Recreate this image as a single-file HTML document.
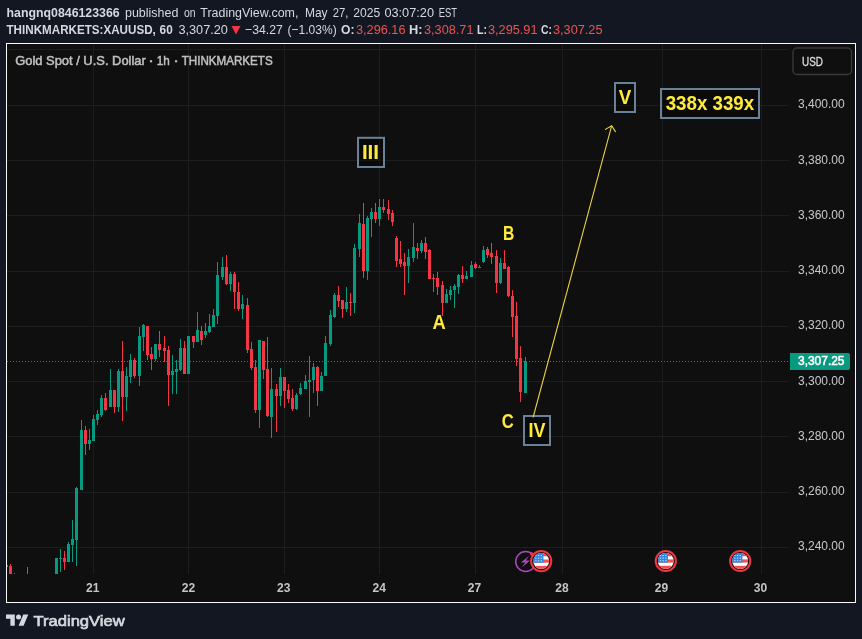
<!DOCTYPE html><html><head><meta charset="utf-8"><title>chart</title><style>html,body{margin:0;padding:0;background:#131722;}svg{display:block}text{font-family:"Liberation Sans",sans-serif;}</style></head><body>
<svg width="862" height="639" viewBox="0 0 862 639">
<defs><filter id="idf" x="-5%" y="-20%" width="110%" height="140%" color-interpolation-filters="sRGB"><feColorMatrix type="matrix" values="1 0 0 0 0 0 1 0 0 0 0 0 1 0 0 0 0 0 1 0"/></filter></defs>
<rect x="0" y="0" width="862" height="639" fill="#131722"/>
<rect x="6" y="43" width="850" height="560" fill="#fafafa"/>
<rect x="7" y="44" width="848" height="558" fill="#0f0f0f"/>
<rect x="7" y="105" width="782" height="1" fill="#1d1d1d"/>
<rect x="7" y="160" width="782" height="1" fill="#1d1d1d"/>
<rect x="7" y="215" width="782" height="1" fill="#1d1d1d"/>
<rect x="7" y="271" width="782" height="1" fill="#1d1d1d"/>
<rect x="7" y="326" width="782" height="1" fill="#1d1d1d"/>
<rect x="7" y="381" width="782" height="1" fill="#1d1d1d"/>
<rect x="7" y="436" width="782" height="1" fill="#1d1d1d"/>
<rect x="7" y="492" width="782" height="1" fill="#1d1d1d"/>
<rect x="7" y="547" width="782" height="1" fill="#1d1d1d"/>
<rect x="7" y="49" width="782" height="1" fill="#1d1d1d"/>
<rect x="93" y="44" width="1" height="530" fill="#1d1d1d"/>
<rect x="188" y="44" width="1" height="530" fill="#1d1d1d"/>
<rect x="284" y="44" width="1" height="530" fill="#1d1d1d"/>
<rect x="379" y="44" width="1" height="530" fill="#1d1d1d"/>
<rect x="475" y="44" width="1" height="530" fill="#1d1d1d"/>
<rect x="562" y="44" width="1" height="530" fill="#1d1d1d"/>
<rect x="662" y="44" width="1" height="530" fill="#1d1d1d"/>
<rect x="761" y="44" width="1" height="530" fill="#1d1d1d"/>
<g shape-rendering="crispEdges">
<rect x="7" y="565" width="1" height="1.5" fill="#f23645"/>
<rect x="14" y="572.5" width="1" height="1.5" fill="#f23645"/>
<rect x="10" y="564" width="1" height="10" fill="#f23645"/>
<rect x="9" y="566" width="3" height="8" fill="#f23645"/>
<rect x="27" y="567" width="1" height="7" fill="#f23645"/>
<rect x="56" y="558" width="1" height="16" fill="#089981"/>
<rect x="55" y="558" width="3" height="16" fill="#089981"/>
<rect x="60" y="549" width="1" height="23" fill="#089981"/>
<rect x="59" y="558" width="3" height="1" fill="#089981"/>
<rect x="64" y="551" width="1" height="19" fill="#f23645"/>
<rect x="63" y="558" width="3" height="4" fill="#f23645"/>
<rect x="68" y="542" width="1" height="20" fill="#089981"/>
<rect x="67" y="544" width="3" height="18" fill="#089981"/>
<rect x="72" y="520" width="1" height="42" fill="#089981"/>
<rect x="71" y="539" width="3" height="6" fill="#089981"/>
<rect x="76" y="487" width="1" height="79" fill="#089981"/>
<rect x="75" y="488" width="3" height="52" fill="#089981"/>
<rect x="81" y="420" width="1" height="70" fill="#089981"/>
<rect x="80" y="430" width="3" height="60" fill="#089981"/>
<rect x="85" y="426" width="1" height="29" fill="#f23645"/>
<rect x="84" y="430" width="3" height="14" fill="#f23645"/>
<rect x="89" y="429" width="1" height="21" fill="#089981"/>
<rect x="88" y="440" width="3" height="4" fill="#089981"/>
<rect x="93" y="415" width="1" height="26" fill="#089981"/>
<rect x="92" y="419" width="3" height="22" fill="#089981"/>
<rect x="97" y="410" width="1" height="15" fill="#089981"/>
<rect x="96" y="414" width="3" height="6" fill="#089981"/>
<rect x="101" y="395" width="1" height="22" fill="#089981"/>
<rect x="100" y="398" width="3" height="17" fill="#089981"/>
<rect x="105" y="393" width="1" height="18" fill="#f23645"/>
<rect x="104" y="398" width="3" height="12" fill="#f23645"/>
<rect x="110" y="369" width="1" height="38" fill="#089981"/>
<rect x="109" y="390" width="3" height="17" fill="#089981"/>
<rect x="114" y="390" width="1" height="23" fill="#f23645"/>
<rect x="113" y="390" width="3" height="17" fill="#f23645"/>
<rect x="118" y="369" width="1" height="43" fill="#089981"/>
<rect x="117" y="371" width="3" height="36" fill="#089981"/>
<rect x="122" y="341" width="1" height="80" fill="#f23645"/>
<rect x="121" y="371" width="3" height="26" fill="#f23645"/>
<rect x="126" y="367" width="1" height="44" fill="#089981"/>
<rect x="125" y="376" width="3" height="21" fill="#089981"/>
<rect x="130" y="354" width="1" height="29" fill="#089981"/>
<rect x="129" y="360" width="3" height="17" fill="#089981"/>
<rect x="134" y="358" width="1" height="20" fill="#f23645"/>
<rect x="133" y="360" width="3" height="16" fill="#f23645"/>
<rect x="139" y="327" width="1" height="59" fill="#089981"/>
<rect x="138" y="336" width="3" height="40" fill="#089981"/>
<rect x="143" y="324" width="1" height="27" fill="#089981"/>
<rect x="142" y="325" width="3" height="12" fill="#089981"/>
<rect x="147" y="326" width="1" height="34" fill="#f23645"/>
<rect x="146" y="326" width="3" height="29" fill="#f23645"/>
<rect x="151" y="347" width="1" height="23" fill="#f23645"/>
<rect x="150" y="354" width="3" height="5" fill="#f23645"/>
<rect x="155" y="344" width="1" height="17" fill="#089981"/>
<rect x="154" y="344" width="3" height="15" fill="#089981"/>
<rect x="159" y="331" width="1" height="26" fill="#f23645"/>
<rect x="158" y="344" width="3" height="6" fill="#f23645"/>
<rect x="164" y="336" width="1" height="26" fill="#f23645"/>
<rect x="163" y="348" width="3" height="3" fill="#f23645"/>
<rect x="168" y="346" width="1" height="60" fill="#f23645"/>
<rect x="167" y="350" width="3" height="25" fill="#f23645"/>
<rect x="172" y="355" width="1" height="39" fill="#089981"/>
<rect x="171" y="371" width="3" height="4" fill="#089981"/>
<rect x="176" y="360" width="1" height="34" fill="#089981"/>
<rect x="175" y="369" width="3" height="3" fill="#089981"/>
<rect x="180" y="339" width="1" height="32" fill="#089981"/>
<rect x="179" y="348" width="3" height="22" fill="#089981"/>
<rect x="184" y="341" width="1" height="33" fill="#f23645"/>
<rect x="183" y="348" width="3" height="26" fill="#f23645"/>
<rect x="188" y="336" width="1" height="38" fill="#089981"/>
<rect x="187" y="336" width="3" height="38" fill="#089981"/>
<rect x="193" y="336" width="1" height="12" fill="#f23645"/>
<rect x="192" y="336" width="3" height="6" fill="#f23645"/>
<rect x="197" y="312" width="1" height="30" fill="#089981"/>
<rect x="196" y="330" width="3" height="12" fill="#089981"/>
<rect x="201" y="326" width="1" height="19" fill="#f23645"/>
<rect x="200" y="331" width="3" height="9" fill="#f23645"/>
<rect x="205" y="323" width="1" height="15" fill="#089981"/>
<rect x="204" y="331" width="3" height="4" fill="#089981"/>
<rect x="209" y="314" width="1" height="19" fill="#089981"/>
<rect x="208" y="326" width="3" height="6" fill="#089981"/>
<rect x="213" y="309" width="1" height="18" fill="#089981"/>
<rect x="212" y="315" width="3" height="12" fill="#089981"/>
<rect x="217" y="262" width="1" height="62" fill="#089981"/>
<rect x="216" y="275" width="3" height="41" fill="#089981"/>
<rect x="222" y="257" width="1" height="23" fill="#089981"/>
<rect x="221" y="267" width="3" height="10" fill="#089981"/>
<rect x="226" y="255" width="1" height="30" fill="#f23645"/>
<rect x="225" y="267" width="3" height="17" fill="#f23645"/>
<rect x="230" y="272" width="1" height="19" fill="#089981"/>
<rect x="229" y="274" width="3" height="10" fill="#089981"/>
<rect x="234" y="272" width="1" height="37" fill="#f23645"/>
<rect x="233" y="274" width="3" height="18" fill="#f23645"/>
<rect x="238" y="282" width="1" height="29" fill="#f23645"/>
<rect x="237" y="292" width="3" height="17" fill="#f23645"/>
<rect x="242" y="295" width="1" height="24" fill="#089981"/>
<rect x="241" y="304" width="3" height="5" fill="#089981"/>
<rect x="247" y="298" width="1" height="55" fill="#f23645"/>
<rect x="246" y="305" width="3" height="45" fill="#f23645"/>
<rect x="251" y="342" width="1" height="28" fill="#f23645"/>
<rect x="250" y="349" width="3" height="19" fill="#f23645"/>
<rect x="255" y="360" width="1" height="53" fill="#f23645"/>
<rect x="254" y="367" width="3" height="43" fill="#f23645"/>
<rect x="259" y="340" width="1" height="88" fill="#089981"/>
<rect x="258" y="340" width="3" height="70" fill="#089981"/>
<rect x="263" y="341" width="1" height="38" fill="#f23645"/>
<rect x="262" y="341" width="3" height="29" fill="#f23645"/>
<rect x="267" y="337" width="1" height="80" fill="#f23645"/>
<rect x="266" y="369" width="3" height="47" fill="#f23645"/>
<rect x="271" y="368" width="1" height="70" fill="#089981"/>
<rect x="270" y="389" width="3" height="28" fill="#089981"/>
<rect x="276" y="384" width="1" height="48" fill="#f23645"/>
<rect x="275" y="389" width="3" height="7" fill="#f23645"/>
<rect x="280" y="368" width="1" height="38" fill="#089981"/>
<rect x="279" y="377" width="3" height="19" fill="#089981"/>
<rect x="284" y="377" width="1" height="31" fill="#f23645"/>
<rect x="283" y="377" width="3" height="14" fill="#f23645"/>
<rect x="288" y="384" width="1" height="19" fill="#f23645"/>
<rect x="287" y="390" width="3" height="9" fill="#f23645"/>
<rect x="292" y="389" width="1" height="22" fill="#f23645"/>
<rect x="291" y="398" width="3" height="11" fill="#f23645"/>
<rect x="296" y="393" width="1" height="17" fill="#089981"/>
<rect x="295" y="395" width="3" height="14" fill="#089981"/>
<rect x="300" y="383" width="1" height="12" fill="#089981"/>
<rect x="299" y="388" width="3" height="6" fill="#089981"/>
<rect x="305" y="375" width="1" height="14" fill="#089981"/>
<rect x="304" y="381" width="3" height="8" fill="#089981"/>
<rect x="309" y="356" width="1" height="61" fill="#089981"/>
<rect x="308" y="380" width="3" height="2" fill="#089981"/>
<rect x="313" y="363" width="1" height="30" fill="#089981"/>
<rect x="312" y="367" width="3" height="13" fill="#089981"/>
<rect x="317" y="366" width="1" height="40" fill="#f23645"/>
<rect x="316" y="367" width="3" height="24" fill="#f23645"/>
<rect x="321" y="372" width="1" height="19" fill="#089981"/>
<rect x="320" y="376" width="3" height="15" fill="#089981"/>
<rect x="325" y="336" width="1" height="40" fill="#089981"/>
<rect x="324" y="343" width="3" height="33" fill="#089981"/>
<rect x="330" y="310" width="1" height="36" fill="#089981"/>
<rect x="329" y="315" width="3" height="29" fill="#089981"/>
<rect x="334" y="293" width="1" height="25" fill="#089981"/>
<rect x="333" y="295" width="3" height="22" fill="#089981"/>
<rect x="338" y="286" width="1" height="21" fill="#f23645"/>
<rect x="337" y="295" width="3" height="6" fill="#f23645"/>
<rect x="342" y="300" width="1" height="18" fill="#f23645"/>
<rect x="341" y="300" width="3" height="9" fill="#f23645"/>
<rect x="346" y="287" width="1" height="25" fill="#089981"/>
<rect x="345" y="302" width="3" height="7" fill="#089981"/>
<rect x="350" y="293" width="1" height="23" fill="#f23645"/>
<rect x="349" y="302" width="3" height="1" fill="#f23645"/>
<rect x="354" y="244" width="1" height="69" fill="#089981"/>
<rect x="353" y="248" width="3" height="55" fill="#089981"/>
<rect x="359" y="214" width="1" height="43" fill="#089981"/>
<rect x="358" y="223" width="3" height="26" fill="#089981"/>
<rect x="363" y="203" width="1" height="75" fill="#f23645"/>
<rect x="362" y="224" width="3" height="47" fill="#f23645"/>
<rect x="367" y="216" width="1" height="64" fill="#089981"/>
<rect x="366" y="218" width="3" height="53" fill="#089981"/>
<rect x="371" y="208" width="1" height="29" fill="#089981"/>
<rect x="370" y="212" width="3" height="7" fill="#089981"/>
<rect x="375" y="203" width="1" height="20" fill="#f23645"/>
<rect x="374" y="212" width="3" height="7" fill="#f23645"/>
<rect x="379" y="199" width="1" height="27" fill="#089981"/>
<rect x="378" y="207" width="3" height="12" fill="#089981"/>
<rect x="383" y="199" width="1" height="14" fill="#f23645"/>
<rect x="382" y="207" width="3" height="3" fill="#f23645"/>
<rect x="388" y="200" width="1" height="20" fill="#f23645"/>
<rect x="387" y="209" width="3" height="5" fill="#f23645"/>
<rect x="392" y="210" width="1" height="16" fill="#f23645"/>
<rect x="391" y="213" width="3" height="9" fill="#f23645"/>
<rect x="396" y="236" width="1" height="31" fill="#f23645"/>
<rect x="395" y="238" width="3" height="23" fill="#f23645"/>
<rect x="400" y="241" width="1" height="26" fill="#f23645"/>
<rect x="399" y="259" width="3" height="5" fill="#f23645"/>
<rect x="404" y="253" width="1" height="42" fill="#f23645"/>
<rect x="403" y="262" width="3" height="4" fill="#f23645"/>
<rect x="408" y="249" width="1" height="34" fill="#089981"/>
<rect x="407" y="257" width="3" height="9" fill="#089981"/>
<rect x="413" y="223" width="1" height="39" fill="#089981"/>
<rect x="412" y="247" width="3" height="11" fill="#089981"/>
<rect x="417" y="243" width="1" height="16" fill="#f23645"/>
<rect x="416" y="248" width="3" height="3" fill="#f23645"/>
<rect x="421" y="240" width="1" height="13" fill="#089981"/>
<rect x="420" y="243" width="3" height="8" fill="#089981"/>
<rect x="425" y="237" width="1" height="22" fill="#f23645"/>
<rect x="424" y="243" width="3" height="9" fill="#f23645"/>
<rect x="429" y="249" width="1" height="30" fill="#f23645"/>
<rect x="428" y="250" width="3" height="29" fill="#f23645"/>
<rect x="433" y="274" width="1" height="18" fill="#f23645"/>
<rect x="432" y="278" width="3" height="1" fill="#f23645"/>
<rect x="437" y="272" width="1" height="23" fill="#f23645"/>
<rect x="436" y="278" width="3" height="9" fill="#f23645"/>
<rect x="442" y="281" width="1" height="35" fill="#f23645"/>
<rect x="441" y="285" width="3" height="18" fill="#f23645"/>
<rect x="446" y="289" width="1" height="14" fill="#089981"/>
<rect x="445" y="294" width="3" height="9" fill="#089981"/>
<rect x="450" y="286" width="1" height="14" fill="#089981"/>
<rect x="449" y="290" width="3" height="5" fill="#089981"/>
<rect x="454" y="284" width="1" height="24" fill="#089981"/>
<rect x="453" y="286" width="3" height="4" fill="#089981"/>
<rect x="458" y="274" width="1" height="20" fill="#089981"/>
<rect x="457" y="275" width="3" height="12" fill="#089981"/>
<rect x="462" y="266" width="1" height="17" fill="#f23645"/>
<rect x="461" y="275" width="3" height="4" fill="#f23645"/>
<rect x="466" y="271" width="1" height="8" fill="#089981"/>
<rect x="465" y="276" width="3" height="3" fill="#089981"/>
<rect x="471" y="261" width="1" height="16" fill="#089981"/>
<rect x="470" y="265" width="3" height="12" fill="#089981"/>
<rect x="475" y="262" width="1" height="7" fill="#f23645"/>
<rect x="474" y="264" width="3" height="4" fill="#f23645"/>
<rect x="479" y="265" width="1" height="3" fill="#089981"/>
<rect x="478" y="267" width="3" height="1" fill="#089981"/>
<rect x="483" y="246" width="1" height="17" fill="#089981"/>
<rect x="482" y="250" width="3" height="12" fill="#089981"/>
<rect x="487" y="247" width="1" height="11" fill="#f23645"/>
<rect x="486" y="249" width="3" height="6" fill="#f23645"/>
<rect x="491" y="243" width="1" height="21" fill="#f23645"/>
<rect x="490" y="253" width="3" height="4" fill="#f23645"/>
<rect x="496" y="250" width="1" height="43" fill="#f23645"/>
<rect x="495" y="256" width="3" height="27" fill="#f23645"/>
<rect x="500" y="258" width="1" height="26" fill="#089981"/>
<rect x="499" y="263" width="3" height="20" fill="#089981"/>
<rect x="504" y="250" width="1" height="19" fill="#f23645"/>
<rect x="503" y="263" width="3" height="6" fill="#f23645"/>
<rect x="508" y="266" width="1" height="31" fill="#f23645"/>
<rect x="507" y="267" width="3" height="29" fill="#f23645"/>
<rect x="512" y="290" width="1" height="47" fill="#f23645"/>
<rect x="511" y="296" width="3" height="21" fill="#f23645"/>
<rect x="516" y="302" width="1" height="64" fill="#f23645"/>
<rect x="515" y="316" width="3" height="43" fill="#f23645"/>
<rect x="520" y="346" width="1" height="56" fill="#f23645"/>
<rect x="519" y="358" width="3" height="34" fill="#f23645"/>
<rect x="525" y="357" width="1" height="36" fill="#089981"/>
<rect x="524" y="361" width="3" height="32" fill="#089981"/>
</g>
<g fill="#089981" shape-rendering="crispEdges">
<rect x="7" y="361" width="1" height="1"/>
<rect x="10" y="361" width="1" height="1"/>
<rect x="13" y="361" width="1" height="1"/>
<rect x="16" y="361" width="1" height="1"/>
<rect x="19" y="361" width="1" height="1"/>
<rect x="22" y="361" width="1" height="1"/>
<rect x="25" y="361" width="1" height="1"/>
<rect x="28" y="361" width="1" height="1"/>
<rect x="31" y="361" width="1" height="1"/>
<rect x="34" y="361" width="1" height="1"/>
<rect x="37" y="361" width="1" height="1"/>
<rect x="40" y="361" width="1" height="1"/>
<rect x="43" y="361" width="1" height="1"/>
<rect x="46" y="361" width="1" height="1"/>
<rect x="49" y="361" width="1" height="1"/>
<rect x="52" y="361" width="1" height="1"/>
<rect x="55" y="361" width="1" height="1"/>
<rect x="58" y="361" width="1" height="1"/>
<rect x="61" y="361" width="1" height="1"/>
<rect x="64" y="361" width="1" height="1"/>
<rect x="67" y="361" width="1" height="1"/>
<rect x="70" y="361" width="1" height="1"/>
<rect x="73" y="361" width="1" height="1"/>
<rect x="76" y="361" width="1" height="1"/>
<rect x="79" y="361" width="1" height="1"/>
<rect x="82" y="361" width="1" height="1"/>
<rect x="85" y="361" width="1" height="1"/>
<rect x="88" y="361" width="1" height="1"/>
<rect x="91" y="361" width="1" height="1"/>
<rect x="94" y="361" width="1" height="1"/>
<rect x="97" y="361" width="1" height="1"/>
<rect x="100" y="361" width="1" height="1"/>
<rect x="103" y="361" width="1" height="1"/>
<rect x="106" y="361" width="1" height="1"/>
<rect x="109" y="361" width="1" height="1"/>
<rect x="112" y="361" width="1" height="1"/>
<rect x="115" y="361" width="1" height="1"/>
<rect x="118" y="361" width="1" height="1"/>
<rect x="121" y="361" width="1" height="1"/>
<rect x="124" y="361" width="1" height="1"/>
<rect x="127" y="361" width="1" height="1"/>
<rect x="130" y="361" width="1" height="1"/>
<rect x="133" y="361" width="1" height="1"/>
<rect x="136" y="361" width="1" height="1"/>
<rect x="139" y="361" width="1" height="1"/>
<rect x="142" y="361" width="1" height="1"/>
<rect x="145" y="361" width="1" height="1"/>
<rect x="148" y="361" width="1" height="1"/>
<rect x="151" y="361" width="1" height="1"/>
<rect x="154" y="361" width="1" height="1"/>
<rect x="157" y="361" width="1" height="1"/>
<rect x="160" y="361" width="1" height="1"/>
<rect x="163" y="361" width="1" height="1"/>
<rect x="166" y="361" width="1" height="1"/>
<rect x="169" y="361" width="1" height="1"/>
<rect x="172" y="361" width="1" height="1"/>
<rect x="175" y="361" width="1" height="1"/>
<rect x="178" y="361" width="1" height="1"/>
<rect x="181" y="361" width="1" height="1"/>
<rect x="184" y="361" width="1" height="1"/>
<rect x="187" y="361" width="1" height="1"/>
<rect x="190" y="361" width="1" height="1"/>
<rect x="193" y="361" width="1" height="1"/>
<rect x="196" y="361" width="1" height="1"/>
<rect x="199" y="361" width="1" height="1"/>
<rect x="202" y="361" width="1" height="1"/>
<rect x="205" y="361" width="1" height="1"/>
<rect x="208" y="361" width="1" height="1"/>
<rect x="211" y="361" width="1" height="1"/>
<rect x="214" y="361" width="1" height="1"/>
<rect x="217" y="361" width="1" height="1"/>
<rect x="220" y="361" width="1" height="1"/>
<rect x="223" y="361" width="1" height="1"/>
<rect x="226" y="361" width="1" height="1"/>
<rect x="229" y="361" width="1" height="1"/>
<rect x="232" y="361" width="1" height="1"/>
<rect x="235" y="361" width="1" height="1"/>
<rect x="238" y="361" width="1" height="1"/>
<rect x="241" y="361" width="1" height="1"/>
<rect x="244" y="361" width="1" height="1"/>
<rect x="247" y="361" width="1" height="1"/>
<rect x="250" y="361" width="1" height="1"/>
<rect x="253" y="361" width="1" height="1"/>
<rect x="256" y="361" width="1" height="1"/>
<rect x="259" y="361" width="1" height="1"/>
<rect x="262" y="361" width="1" height="1"/>
<rect x="265" y="361" width="1" height="1"/>
<rect x="268" y="361" width="1" height="1"/>
<rect x="271" y="361" width="1" height="1"/>
<rect x="274" y="361" width="1" height="1"/>
<rect x="277" y="361" width="1" height="1"/>
<rect x="280" y="361" width="1" height="1"/>
<rect x="283" y="361" width="1" height="1"/>
<rect x="286" y="361" width="1" height="1"/>
<rect x="289" y="361" width="1" height="1"/>
<rect x="292" y="361" width="1" height="1"/>
<rect x="295" y="361" width="1" height="1"/>
<rect x="298" y="361" width="1" height="1"/>
<rect x="301" y="361" width="1" height="1"/>
<rect x="304" y="361" width="1" height="1"/>
<rect x="307" y="361" width="1" height="1"/>
<rect x="310" y="361" width="1" height="1"/>
<rect x="313" y="361" width="1" height="1"/>
<rect x="316" y="361" width="1" height="1"/>
<rect x="319" y="361" width="1" height="1"/>
<rect x="322" y="361" width="1" height="1"/>
<rect x="325" y="361" width="1" height="1"/>
<rect x="328" y="361" width="1" height="1"/>
<rect x="331" y="361" width="1" height="1"/>
<rect x="334" y="361" width="1" height="1"/>
<rect x="337" y="361" width="1" height="1"/>
<rect x="340" y="361" width="1" height="1"/>
<rect x="343" y="361" width="1" height="1"/>
<rect x="346" y="361" width="1" height="1"/>
<rect x="349" y="361" width="1" height="1"/>
<rect x="352" y="361" width="1" height="1"/>
<rect x="355" y="361" width="1" height="1"/>
<rect x="358" y="361" width="1" height="1"/>
<rect x="361" y="361" width="1" height="1"/>
<rect x="364" y="361" width="1" height="1"/>
<rect x="367" y="361" width="1" height="1"/>
<rect x="370" y="361" width="1" height="1"/>
<rect x="373" y="361" width="1" height="1"/>
<rect x="376" y="361" width="1" height="1"/>
<rect x="379" y="361" width="1" height="1"/>
<rect x="382" y="361" width="1" height="1"/>
<rect x="385" y="361" width="1" height="1"/>
<rect x="388" y="361" width="1" height="1"/>
<rect x="391" y="361" width="1" height="1"/>
<rect x="394" y="361" width="1" height="1"/>
<rect x="397" y="361" width="1" height="1"/>
<rect x="400" y="361" width="1" height="1"/>
<rect x="403" y="361" width="1" height="1"/>
<rect x="406" y="361" width="1" height="1"/>
<rect x="409" y="361" width="1" height="1"/>
<rect x="412" y="361" width="1" height="1"/>
<rect x="415" y="361" width="1" height="1"/>
<rect x="418" y="361" width="1" height="1"/>
<rect x="421" y="361" width="1" height="1"/>
<rect x="424" y="361" width="1" height="1"/>
<rect x="427" y="361" width="1" height="1"/>
<rect x="430" y="361" width="1" height="1"/>
<rect x="433" y="361" width="1" height="1"/>
<rect x="436" y="361" width="1" height="1"/>
<rect x="439" y="361" width="1" height="1"/>
<rect x="442" y="361" width="1" height="1"/>
<rect x="445" y="361" width="1" height="1"/>
<rect x="448" y="361" width="1" height="1"/>
<rect x="451" y="361" width="1" height="1"/>
<rect x="454" y="361" width="1" height="1"/>
<rect x="457" y="361" width="1" height="1"/>
<rect x="460" y="361" width="1" height="1"/>
<rect x="463" y="361" width="1" height="1"/>
<rect x="466" y="361" width="1" height="1"/>
<rect x="469" y="361" width="1" height="1"/>
<rect x="472" y="361" width="1" height="1"/>
<rect x="475" y="361" width="1" height="1"/>
<rect x="478" y="361" width="1" height="1"/>
<rect x="481" y="361" width="1" height="1"/>
<rect x="484" y="361" width="1" height="1"/>
<rect x="487" y="361" width="1" height="1"/>
<rect x="490" y="361" width="1" height="1"/>
<rect x="493" y="361" width="1" height="1"/>
<rect x="496" y="361" width="1" height="1"/>
<rect x="499" y="361" width="1" height="1"/>
<rect x="502" y="361" width="1" height="1"/>
<rect x="505" y="361" width="1" height="1"/>
<rect x="508" y="361" width="1" height="1"/>
<rect x="511" y="361" width="1" height="1"/>
<rect x="514" y="361" width="1" height="1"/>
<rect x="517" y="361" width="1" height="1"/>
<rect x="520" y="361" width="1" height="1"/>
<rect x="523" y="361" width="1" height="1"/>
<rect x="526" y="361" width="1" height="1"/>
<rect x="529" y="361" width="1" height="1"/>
<rect x="532" y="361" width="1" height="1"/>
<rect x="535" y="361" width="1" height="1"/>
<rect x="538" y="361" width="1" height="1"/>
<rect x="541" y="361" width="1" height="1"/>
<rect x="544" y="361" width="1" height="1"/>
<rect x="547" y="361" width="1" height="1"/>
<rect x="550" y="361" width="1" height="1"/>
<rect x="553" y="361" width="1" height="1"/>
<rect x="556" y="361" width="1" height="1"/>
<rect x="559" y="361" width="1" height="1"/>
<rect x="562" y="361" width="1" height="1"/>
<rect x="565" y="361" width="1" height="1"/>
<rect x="568" y="361" width="1" height="1"/>
<rect x="571" y="361" width="1" height="1"/>
<rect x="574" y="361" width="1" height="1"/>
<rect x="577" y="361" width="1" height="1"/>
<rect x="580" y="361" width="1" height="1"/>
<rect x="583" y="361" width="1" height="1"/>
<rect x="586" y="361" width="1" height="1"/>
<rect x="589" y="361" width="1" height="1"/>
<rect x="592" y="361" width="1" height="1"/>
<rect x="595" y="361" width="1" height="1"/>
<rect x="598" y="361" width="1" height="1"/>
<rect x="601" y="361" width="1" height="1"/>
<rect x="604" y="361" width="1" height="1"/>
<rect x="607" y="361" width="1" height="1"/>
<rect x="610" y="361" width="1" height="1"/>
<rect x="613" y="361" width="1" height="1"/>
<rect x="616" y="361" width="1" height="1"/>
<rect x="619" y="361" width="1" height="1"/>
<rect x="622" y="361" width="1" height="1"/>
<rect x="625" y="361" width="1" height="1"/>
<rect x="628" y="361" width="1" height="1"/>
<rect x="631" y="361" width="1" height="1"/>
<rect x="634" y="361" width="1" height="1"/>
<rect x="637" y="361" width="1" height="1"/>
<rect x="640" y="361" width="1" height="1"/>
<rect x="643" y="361" width="1" height="1"/>
<rect x="646" y="361" width="1" height="1"/>
<rect x="649" y="361" width="1" height="1"/>
<rect x="652" y="361" width="1" height="1"/>
<rect x="655" y="361" width="1" height="1"/>
<rect x="658" y="361" width="1" height="1"/>
<rect x="661" y="361" width="1" height="1"/>
<rect x="664" y="361" width="1" height="1"/>
<rect x="667" y="361" width="1" height="1"/>
<rect x="670" y="361" width="1" height="1"/>
<rect x="673" y="361" width="1" height="1"/>
<rect x="676" y="361" width="1" height="1"/>
<rect x="679" y="361" width="1" height="1"/>
<rect x="682" y="361" width="1" height="1"/>
<rect x="685" y="361" width="1" height="1"/>
<rect x="688" y="361" width="1" height="1"/>
<rect x="691" y="361" width="1" height="1"/>
<rect x="694" y="361" width="1" height="1"/>
<rect x="697" y="361" width="1" height="1"/>
<rect x="700" y="361" width="1" height="1"/>
<rect x="703" y="361" width="1" height="1"/>
<rect x="706" y="361" width="1" height="1"/>
<rect x="709" y="361" width="1" height="1"/>
<rect x="712" y="361" width="1" height="1"/>
<rect x="715" y="361" width="1" height="1"/>
<rect x="718" y="361" width="1" height="1"/>
<rect x="721" y="361" width="1" height="1"/>
<rect x="724" y="361" width="1" height="1"/>
<rect x="727" y="361" width="1" height="1"/>
<rect x="730" y="361" width="1" height="1"/>
<rect x="733" y="361" width="1" height="1"/>
<rect x="736" y="361" width="1" height="1"/>
<rect x="739" y="361" width="1" height="1"/>
<rect x="742" y="361" width="1" height="1"/>
<rect x="745" y="361" width="1" height="1"/>
<rect x="748" y="361" width="1" height="1"/>
<rect x="751" y="361" width="1" height="1"/>
<rect x="754" y="361" width="1" height="1"/>
<rect x="757" y="361" width="1" height="1"/>
<rect x="760" y="361" width="1" height="1"/>
<rect x="763" y="361" width="1" height="1"/>
<rect x="766" y="361" width="1" height="1"/>
<rect x="769" y="361" width="1" height="1"/>
<rect x="772" y="361" width="1" height="1"/>
<rect x="775" y="361" width="1" height="1"/>
<rect x="778" y="361" width="1" height="1"/>
<rect x="781" y="361" width="1" height="1"/>
<rect x="784" y="361" width="1" height="1"/>
<rect x="787" y="361" width="1" height="1"/>
</g>
<text filter="url(#idf)" x="6.5" y="17" font-size="13.5" fill="#d6d8df" font-weight="bold" text-anchor="start" textLength="113.2" lengthAdjust="spacingAndGlyphs" >hangnq0846123366</text>
<text filter="url(#idf)" x="125" y="17" font-size="13.5" fill="#d6d8df" font-weight="normal" text-anchor="start" textLength="53.4" lengthAdjust="spacingAndGlyphs" >published</text>
<text filter="url(#idf)" x="184" y="17" font-size="13.5" fill="#d6d8df" font-weight="normal" text-anchor="start" textLength="11.6" lengthAdjust="spacingAndGlyphs" >on</text>
<text filter="url(#idf)" x="200.3" y="17" font-size="13.5" fill="#d6d8df" font-weight="normal" text-anchor="start" textLength="98.1" lengthAdjust="spacingAndGlyphs" >TradingView.com,</text>
<text filter="url(#idf)" x="305" y="17" font-size="13.5" fill="#d6d8df" font-weight="normal" text-anchor="start" textLength="22.6" lengthAdjust="spacingAndGlyphs" >May</text>
<text filter="url(#idf)" x="332.8" y="17" font-size="13.5" fill="#d6d8df" font-weight="normal" text-anchor="start" textLength="15.7" lengthAdjust="spacingAndGlyphs" >27,</text>
<text filter="url(#idf)" x="353.3" y="17" font-size="13.5" fill="#d6d8df" font-weight="normal" text-anchor="start" textLength="26.9" lengthAdjust="spacingAndGlyphs" >2025</text>
<text filter="url(#idf)" x="384.4" y="17" font-size="13.5" fill="#d6d8df" font-weight="normal" text-anchor="start" textLength="49.6" lengthAdjust="spacingAndGlyphs" >03:07:20</text>
<text filter="url(#idf)" x="438.7" y="17" font-size="13.5" fill="#d6d8df" font-weight="normal" text-anchor="start" textLength="18.3" lengthAdjust="spacingAndGlyphs" >EST</text>
<text filter="url(#idf)" x="6.5" y="34.2" font-size="13" fill="#d6d8df" font-weight="bold" text-anchor="start" textLength="149.3" lengthAdjust="spacingAndGlyphs" >THINKMARKETS:XAUUSD,</text>
<text filter="url(#idf)" x="159.6" y="34.2" font-size="13" fill="#d6d8df" font-weight="bold" text-anchor="start" textLength="13.1" lengthAdjust="spacingAndGlyphs" >60</text>
<text filter="url(#idf)" x="178.4" y="34.2" font-size="13" fill="#d6d8df" font-weight="normal" text-anchor="start" textLength="49.5" lengthAdjust="spacingAndGlyphs" >3,307.20</text>
<path d="M231.5 26 L240.5 26 L236 34.5 Z" fill="#f23645"/>
<text filter="url(#idf)" x="245.1" y="34.2" font-size="13" fill="#d6d8df" font-weight="normal" text-anchor="start" textLength="37.7" lengthAdjust="spacingAndGlyphs" >−34.27</text>
<text filter="url(#idf)" x="287.5" y="34.2" font-size="13" fill="#d6d8df" font-weight="normal" text-anchor="start" textLength="49.2" lengthAdjust="spacingAndGlyphs" >(−1.03%)</text>
<text filter="url(#idf)" x="341" y="34.2" font-size="13" fill="#d6d8df" font-weight="bold" text-anchor="start" textLength="13.5" lengthAdjust="spacingAndGlyphs" >O:</text>
<text filter="url(#idf)" x="356" y="34.2" font-size="13" fill="#ef5350" font-weight="normal" text-anchor="start" textLength="49.5" lengthAdjust="spacingAndGlyphs" >3,296.16</text>
<text filter="url(#idf)" x="409" y="34.2" font-size="13" fill="#d6d8df" font-weight="bold" text-anchor="start" textLength="13.5" lengthAdjust="spacingAndGlyphs" >H:</text>
<text filter="url(#idf)" x="424" y="34.2" font-size="13" fill="#ef5350" font-weight="normal" text-anchor="start" textLength="49.5" lengthAdjust="spacingAndGlyphs" >3,308.71</text>
<text filter="url(#idf)" x="477" y="34.2" font-size="13" fill="#d6d8df" font-weight="bold" text-anchor="start" textLength="10" lengthAdjust="spacingAndGlyphs" >L:</text>
<text filter="url(#idf)" x="488" y="34.2" font-size="13" fill="#ef5350" font-weight="normal" text-anchor="start" textLength="49.5" lengthAdjust="spacingAndGlyphs" >3,295.91</text>
<text filter="url(#idf)" x="541" y="34.2" font-size="13" fill="#d6d8df" font-weight="bold" text-anchor="start" textLength="11" lengthAdjust="spacingAndGlyphs" >C:</text>
<text filter="url(#idf)" x="553" y="34.2" font-size="13" fill="#ef5350" font-weight="normal" text-anchor="start" textLength="49.5" lengthAdjust="spacingAndGlyphs" >3,307.25</text>
<text filter="url(#idf)" x="15.2" y="65.2" font-size="13" fill="#c0c0c0" font-weight="normal" text-anchor="start" textLength="130.6" lengthAdjust="spacingAndGlyphs" stroke="#c0c0c0" stroke-width="0.5">Gold Spot / U.S. Dollar</text>
<text filter="url(#idf)" x="156.8" y="65.2" font-size="13" fill="#c0c0c0" font-weight="normal" text-anchor="start" textLength="13" lengthAdjust="spacingAndGlyphs" stroke="#c0c0c0" stroke-width="0.5">1h</text>
<text filter="url(#idf)" x="181.7" y="65.2" font-size="13" fill="#c0c0c0" font-weight="normal" text-anchor="start" textLength="91" lengthAdjust="spacingAndGlyphs" stroke="#c0c0c0" stroke-width="0.5">THINKMARKETS</text>
<rect x="149.9" y="60.2" width="2.2" height="2.1" fill="#c0c0c0"/><rect x="175" y="60.2" width="2.2" height="2.1" fill="#c0c0c0"/>
<rect x="793" y="48" width="58.5" height="26.5" rx="4" ry="4" fill="#0f0f0f" stroke="#383838" stroke-width="1.4"/>
<text filter="url(#idf)" x="802" y="65.6" font-size="12" fill="#dddddd" font-weight="normal" text-anchor="start" textLength="21" lengthAdjust="spacingAndGlyphs" stroke="#dddddd" stroke-width="0.3">USD</text>
<text filter="url(#idf)" x="798" y="108" font-size="12" fill="#c8c8c8" font-weight="normal" text-anchor="start" textLength="46.7" lengthAdjust="spacingAndGlyphs" >3,400.00</text>
<text filter="url(#idf)" x="798" y="164" font-size="12" fill="#c8c8c8" font-weight="normal" text-anchor="start" textLength="46.7" lengthAdjust="spacingAndGlyphs" >3,380.00</text>
<text filter="url(#idf)" x="798" y="219" font-size="12" fill="#c8c8c8" font-weight="normal" text-anchor="start" textLength="46.7" lengthAdjust="spacingAndGlyphs" >3,360.00</text>
<text filter="url(#idf)" x="798" y="274" font-size="12" fill="#c8c8c8" font-weight="normal" text-anchor="start" textLength="46.7" lengthAdjust="spacingAndGlyphs" >3,340.00</text>
<text filter="url(#idf)" x="798" y="329" font-size="12" fill="#c8c8c8" font-weight="normal" text-anchor="start" textLength="46.7" lengthAdjust="spacingAndGlyphs" >3,320.00</text>
<text filter="url(#idf)" x="798" y="385" font-size="12" fill="#c8c8c8" font-weight="normal" text-anchor="start" textLength="46.7" lengthAdjust="spacingAndGlyphs" >3,300.00</text>
<text filter="url(#idf)" x="798" y="440" font-size="12" fill="#c8c8c8" font-weight="normal" text-anchor="start" textLength="46.7" lengthAdjust="spacingAndGlyphs" >3,280.00</text>
<text filter="url(#idf)" x="798" y="495" font-size="12" fill="#c8c8c8" font-weight="normal" text-anchor="start" textLength="46.7" lengthAdjust="spacingAndGlyphs" >3,260.00</text>
<text filter="url(#idf)" x="798" y="550" font-size="12" fill="#c8c8c8" font-weight="normal" text-anchor="start" textLength="46.7" lengthAdjust="spacingAndGlyphs" >3,240.00</text>
<path d="M790 353 H848 a2 2 0 0 1 2 2 V368 a2 2 0 0 1 -2 2 H790 Z" fill="#089981"/>
<text filter="url(#idf)" x="798" y="364.7" font-size="12" fill="#ffffff" font-weight="normal" text-anchor="start" textLength="46.5" lengthAdjust="spacingAndGlyphs" stroke="#ffffff" stroke-width="0.5">3,307.25</text>
<text filter="url(#idf)" x="92.7" y="592.2" font-size="12.5" fill="#c4c4c4" font-weight="bold" text-anchor="middle" textLength="13.4" lengthAdjust="spacingAndGlyphs" >21</text>
<text filter="url(#idf)" x="188.5" y="592.2" font-size="12.5" fill="#c4c4c4" font-weight="bold" text-anchor="middle" textLength="13.4" lengthAdjust="spacingAndGlyphs" >22</text>
<text filter="url(#idf)" x="283.7" y="592.2" font-size="12.5" fill="#c4c4c4" font-weight="bold" text-anchor="middle" textLength="13.4" lengthAdjust="spacingAndGlyphs" >23</text>
<text filter="url(#idf)" x="379.2" y="592.2" font-size="12.5" fill="#c4c4c4" font-weight="bold" text-anchor="middle" textLength="13.4" lengthAdjust="spacingAndGlyphs" >24</text>
<text filter="url(#idf)" x="474.5" y="592.2" font-size="12.5" fill="#c4c4c4" font-weight="bold" text-anchor="middle" textLength="13.4" lengthAdjust="spacingAndGlyphs" >27</text>
<text filter="url(#idf)" x="561.9" y="592.2" font-size="12.5" fill="#c4c4c4" font-weight="bold" text-anchor="middle" textLength="13.4" lengthAdjust="spacingAndGlyphs" >28</text>
<text filter="url(#idf)" x="661.5" y="592.2" font-size="12.5" fill="#c4c4c4" font-weight="bold" text-anchor="middle" textLength="13.4" lengthAdjust="spacingAndGlyphs" >29</text>
<text filter="url(#idf)" x="760.5" y="592.2" font-size="12.5" fill="#c4c4c4" font-weight="bold" text-anchor="middle" textLength="13.4" lengthAdjust="spacingAndGlyphs" >30</text>
<rect x="358" y="137.8" width="26" height="29.19999999999999" fill="#000000" fill-opacity="0.3" stroke="#6b8296" stroke-width="2"/>
<text filter="url(#idf)" x="370.5" y="159" font-size="19.5" fill="#ffeb3b" font-weight="bold" text-anchor="middle" textLength="17.2" lengthAdjust="spacingAndGlyphs" >III</text>
<rect x="615" y="83" width="20" height="29" fill="#000000" fill-opacity="0.3" stroke="#6b8296" stroke-width="2"/>
<text filter="url(#idf)" x="625" y="104" font-size="19.5" fill="#ffeb3b" font-weight="bold" text-anchor="middle" textLength="12.5" lengthAdjust="spacingAndGlyphs" >V</text>
<rect x="661" y="89" width="98" height="29" fill="#000000" fill-opacity="0.3" stroke="#6b8296" stroke-width="2"/>
<text filter="url(#idf)" x="665.7" y="110" font-size="20" fill="#ffeb3b" font-weight="bold" text-anchor="start" textLength="88.5" lengthAdjust="spacingAndGlyphs" >338x 339x</text>
<rect x="524" y="416" width="26" height="29" fill="#000000" fill-opacity="0.3" stroke="#6b8296" stroke-width="2"/>
<text filter="url(#idf)" x="537.1" y="437" font-size="19.5" fill="#ffeb3b" font-weight="bold" text-anchor="middle" textLength="17" lengthAdjust="spacingAndGlyphs" >IV</text>
<text filter="url(#idf)" x="439" y="328.8" font-size="19.5" fill="#ffeb3b" font-weight="bold" text-anchor="middle" textLength="13.2" lengthAdjust="spacingAndGlyphs" >A</text>
<text filter="url(#idf)" x="508.6" y="240" font-size="19.5" fill="#ffeb3b" font-weight="bold" text-anchor="middle" textLength="11.3" lengthAdjust="spacingAndGlyphs" >B</text>
<text filter="url(#idf)" x="507.8" y="428" font-size="19.5" fill="#ffeb3b" font-weight="bold" text-anchor="middle" textLength="12" lengthAdjust="spacingAndGlyphs" >C</text>
<path d="M533.2 417 L611.7 125.7 M605.4 129.4 L611.7 125.7 L615.4 131.6" fill="none" stroke="#e6d33a" stroke-width="1.1" stroke-linecap="round"/>
<circle cx="525.7" cy="561.5" r="10" fill="none" stroke="#ab47bc" stroke-width="1.5"/>
<path d="M529.2 555.8 L520.8 562.5 L525.2 562.5 L521.8 567.6 L530 560.5 L525.8 560.5 Z" fill="#ab47bc"/>
<circle cx="531.8" cy="554" r="1.8" fill="#f23645"/>
<g><clipPath id="c541"><circle cx="541.2" cy="561.1" r="8.0"/></clipPath>
<circle cx="541.2" cy="561.1" r="10.1" fill="#0f0f0f" stroke="#f23645" stroke-width="2"/>
<g clip-path="url(#c541)">
<rect x="533.2" y="553.1" width="16.0" height="16.0" fill="#ffffff"/>
<rect x="533.2" y="553.10" width="16.0" height="3.20" fill="#f0524f"/>
<rect x="533.2" y="559.50" width="16.0" height="3.20" fill="#f0524f"/>
<rect x="533.2" y="565.90" width="16.0" height="3.20" fill="#f0524f"/>
<rect x="533.2" y="553.1" width="10.2" height="9.60" fill="#2f88e6"/>
<rect x="535.20" y="555.10" width="1.3" height="1" fill="#cfe3fb"/>
<rect x="537.90" y="555.10" width="1.3" height="1" fill="#cfe3fb"/>
<rect x="540.60" y="555.10" width="1.3" height="1" fill="#cfe3fb"/>
<rect x="535.20" y="557.70" width="1.3" height="1" fill="#cfe3fb"/>
<rect x="537.90" y="557.70" width="1.3" height="1" fill="#cfe3fb"/>
<rect x="540.60" y="557.70" width="1.3" height="1" fill="#cfe3fb"/>
<rect x="535.20" y="560.30" width="1.3" height="1" fill="#cfe3fb"/>
<rect x="537.90" y="560.30" width="1.3" height="1" fill="#cfe3fb"/>
<rect x="540.60" y="560.30" width="1.3" height="1" fill="#cfe3fb"/>
</g></g>
<g><clipPath id="c665"><circle cx="665.8" cy="561.0" r="8.0"/></clipPath>
<circle cx="665.8" cy="561.0" r="10.1" fill="#0f0f0f" stroke="#f23645" stroke-width="2"/>
<g clip-path="url(#c665)">
<rect x="657.8" y="553.0" width="16.0" height="16.0" fill="#ffffff"/>
<rect x="657.8" y="553.00" width="16.0" height="3.20" fill="#f0524f"/>
<rect x="657.8" y="559.40" width="16.0" height="3.20" fill="#f0524f"/>
<rect x="657.8" y="565.80" width="16.0" height="3.20" fill="#f0524f"/>
<rect x="657.8" y="553.0" width="10.2" height="9.60" fill="#2f88e6"/>
<rect x="659.80" y="555.00" width="1.3" height="1" fill="#cfe3fb"/>
<rect x="662.50" y="555.00" width="1.3" height="1" fill="#cfe3fb"/>
<rect x="665.20" y="555.00" width="1.3" height="1" fill="#cfe3fb"/>
<rect x="659.80" y="557.60" width="1.3" height="1" fill="#cfe3fb"/>
<rect x="662.50" y="557.60" width="1.3" height="1" fill="#cfe3fb"/>
<rect x="665.20" y="557.60" width="1.3" height="1" fill="#cfe3fb"/>
<rect x="659.80" y="560.20" width="1.3" height="1" fill="#cfe3fb"/>
<rect x="662.50" y="560.20" width="1.3" height="1" fill="#cfe3fb"/>
<rect x="665.20" y="560.20" width="1.3" height="1" fill="#cfe3fb"/>
</g></g>
<g><clipPath id="c740"><circle cx="740.2" cy="561.0" r="8.0"/></clipPath>
<circle cx="740.2" cy="561.0" r="10.1" fill="#0f0f0f" stroke="#f23645" stroke-width="2"/>
<g clip-path="url(#c740)">
<rect x="732.2" y="553.0" width="16.0" height="16.0" fill="#ffffff"/>
<rect x="732.2" y="553.00" width="16.0" height="3.20" fill="#f0524f"/>
<rect x="732.2" y="559.40" width="16.0" height="3.20" fill="#f0524f"/>
<rect x="732.2" y="565.80" width="16.0" height="3.20" fill="#f0524f"/>
<rect x="732.2" y="553.0" width="10.2" height="9.60" fill="#2f88e6"/>
<rect x="734.20" y="555.00" width="1.3" height="1" fill="#cfe3fb"/>
<rect x="736.90" y="555.00" width="1.3" height="1" fill="#cfe3fb"/>
<rect x="739.60" y="555.00" width="1.3" height="1" fill="#cfe3fb"/>
<rect x="734.20" y="557.60" width="1.3" height="1" fill="#cfe3fb"/>
<rect x="736.90" y="557.60" width="1.3" height="1" fill="#cfe3fb"/>
<rect x="739.60" y="557.60" width="1.3" height="1" fill="#cfe3fb"/>
<rect x="734.20" y="560.20" width="1.3" height="1" fill="#cfe3fb"/>
<rect x="736.90" y="560.20" width="1.3" height="1" fill="#cfe3fb"/>
<rect x="739.60" y="560.20" width="1.3" height="1" fill="#cfe3fb"/>
</g></g>
<g transform="translate(6,611.9) scale(0.628)" fill="#d5d7de"><path d="M14 22H7V11H0V4h14v18zM28 22h-8l7.5-18h8L28 22z"/><circle cx="20" cy="8" r="4"/></g>
<text filter="url(#idf)" x="33.6" y="625.7" font-size="15.5" fill="#d5d7de" font-weight="normal" text-anchor="start" textLength="91" lengthAdjust="spacingAndGlyphs" stroke="#d5d7de" stroke-width="0.7">TradingView</text>
</svg></body></html>
